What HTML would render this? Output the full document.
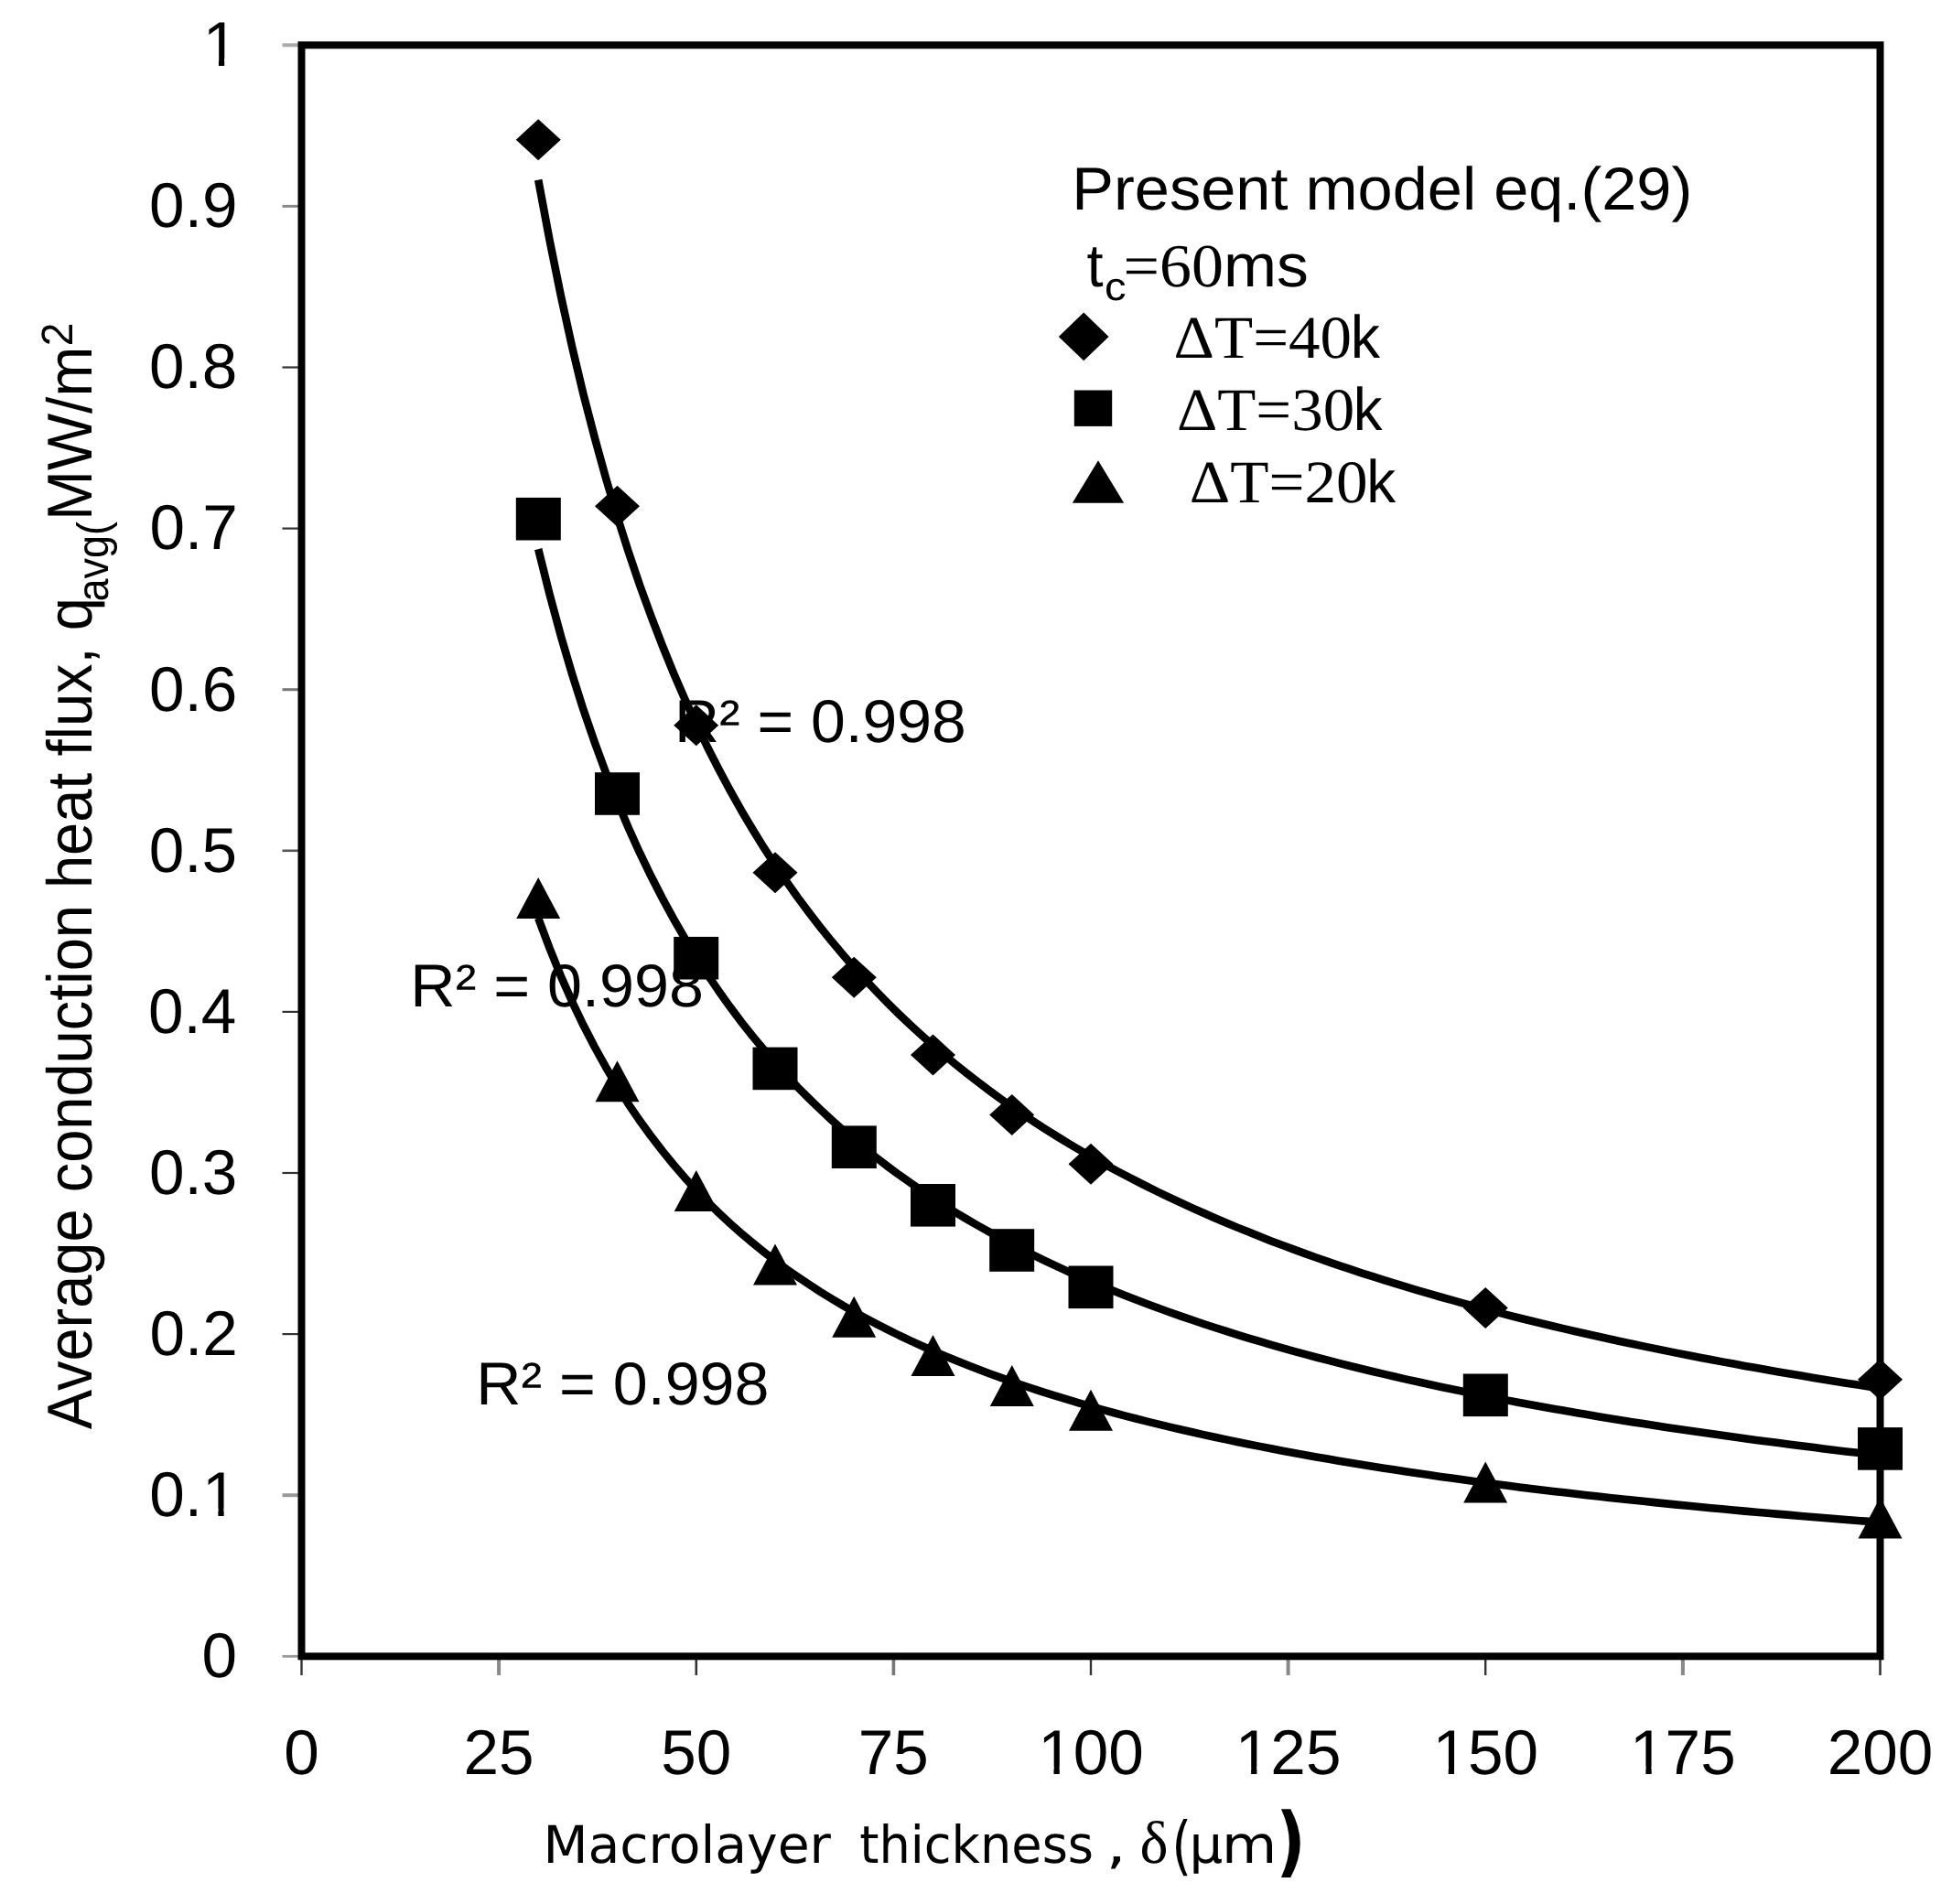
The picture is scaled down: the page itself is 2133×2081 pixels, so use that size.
<!DOCTYPE html>
<html lang="en"><head><meta charset="utf-8"><title>Average conduction heat flux vs macrolayer thickness</title>
<style>html,body{margin:0;padding:0;background:#fff;}body{width:2133px;height:2081px;overflow:hidden;}svg{display:block;}
text{fill:#000;text-rendering:geometricPrecision;}.a{font-family:"Liberation Sans",Arial,sans-serif;}.t{font-family:"Liberation Serif","Times New Roman",serif;}.d{font-family:"DejaVu Sans","Liberation Sans",sans-serif;}.b{font-weight:bold;}
</style></head><body>
<svg width="2133" height="2081" viewBox="0 0 2133 2081">
<rect width="2133" height="2081" fill="#fff"/>
<defs><filter id="soft" x="0" y="0" width="100%" height="100%" filterUnits="objectBoundingBox" color-interpolation-filters="sRGB"><feGaussianBlur stdDeviation="0.75"/></filter></defs>
<g filter="url(#soft)"><rect width="2133" height="2081" fill="#fff"/>
<line x1="308.5" y1="1810.3" x2="326" y2="1810.3" stroke="#999" stroke-width="2.8"/>
<line x1="308.5" y1="1634.2" x2="326" y2="1634.2" stroke="#999" stroke-width="4"/>
<line x1="308.5" y1="1458.1" x2="326" y2="1458.1" stroke="#333" stroke-width="2.2"/>
<line x1="308.5" y1="1282.0" x2="326" y2="1282.0" stroke="#333" stroke-width="2.2"/>
<line x1="308.5" y1="1105.9" x2="326" y2="1105.9" stroke="#333" stroke-width="2.2"/>
<line x1="308.5" y1="929.8" x2="326" y2="929.8" stroke="#555" stroke-width="2.6"/>
<line x1="308.5" y1="753.7" x2="326" y2="753.7" stroke="#777" stroke-width="3"/>
<line x1="308.5" y1="577.6" x2="326" y2="577.6" stroke="#333" stroke-width="2.2"/>
<line x1="308.5" y1="401.5" x2="326" y2="401.5" stroke="#333" stroke-width="2.2"/>
<line x1="308.5" y1="225.4" x2="326" y2="225.4" stroke="#888" stroke-width="3"/>
<line x1="308.5" y1="49.3" x2="326" y2="49.3" stroke="#aaa" stroke-width="4"/>
<line x1="329.5" y1="1814" x2="329.5" y2="1831" stroke="#333" stroke-width="2.4"/>
<line x1="545.1" y1="1814" x2="545.1" y2="1831" stroke="#888" stroke-width="4"/>
<line x1="760.8" y1="1814" x2="760.8" y2="1831" stroke="#333" stroke-width="2.6"/>
<line x1="976.4" y1="1814" x2="976.4" y2="1831" stroke="#777" stroke-width="3.6"/>
<line x1="1192.0" y1="1814" x2="1192.0" y2="1831" stroke="#333" stroke-width="2.4"/>
<line x1="1407.6" y1="1814" x2="1407.6" y2="1831" stroke="#888" stroke-width="4"/>
<line x1="1623.2" y1="1814" x2="1623.2" y2="1831" stroke="#333" stroke-width="2.4"/>
<line x1="1838.9" y1="1814" x2="1838.9" y2="1831" stroke="#888" stroke-width="4"/>
<line x1="2054.5" y1="1814" x2="2054.5" y2="1831" stroke="#333" stroke-width="2.6"/>
<rect x="329.5" y="49.3" width="1725.0" height="1761.0" fill="none" stroke="#000" stroke-width="8"/>
<polyline points="588.2,196.6 600.6,262.8 612.9,323.4 625.2,379.3 637.5,430.9 649.9,478.7 662.2,523.2 674.5,564.6 686.8,603.3 699.1,639.6 711.5,673.6 723.8,705.6 736.1,735.8 748.4,764.2 760.8,791.2 773.1,816.7 785.4,840.8 797.7,863.8 810.0,885.7 822.4,906.5 834.7,926.4 847.0,945.3 859.3,963.4 871.6,980.8 884.0,997.4 896.3,1013.3 908.6,1028.6 920.9,1043.2 933.2,1057.3 945.6,1070.9 957.9,1083.9 970.2,1096.5 982.5,1108.6 994.9,1120.3 1007.2,1131.6 1019.5,1142.6 1031.8,1153.1 1044.1,1163.3 1056.5,1173.2 1068.8,1182.7 1081.1,1192.0 1093.4,1201.0 1105.8,1209.7 1118.1,1218.1 1130.4,1226.3 1142.7,1234.3 1155.0,1242.0 1167.4,1249.6 1179.7,1256.9 1192.0,1264.0 1204.3,1270.9 1216.6,1277.7 1229.0,1284.2 1241.3,1290.6 1253.6,1296.9 1265.9,1303.0 1278.2,1308.9 1290.6,1314.7 1302.9,1320.3 1315.2,1325.8 1327.5,1331.2 1339.9,1336.5 1352.2,1341.6 1364.5,1346.6 1376.8,1351.6 1389.1,1356.4 1401.5,1361.0 1413.8,1365.6 1426.1,1370.1 1438.4,1374.5 1450.8,1378.9 1463.1,1383.1 1475.4,1387.2 1487.7,1391.3 1500.0,1395.2 1512.4,1399.1 1524.7,1402.9 1537.0,1406.7 1549.3,1410.3 1561.6,1413.9 1574.0,1417.5 1586.3,1420.9 1598.6,1424.3 1610.9,1427.7 1623.2,1431.0 1635.6,1434.2 1647.9,1437.4 1660.2,1440.5 1672.5,1443.5 1684.9,1446.5 1697.2,1449.5 1709.5,1452.4 1721.8,1455.2 1734.1,1458.0 1746.5,1460.8 1758.8,1463.5 1771.1,1466.2 1783.4,1468.8 1795.8,1471.4 1808.1,1473.9 1820.4,1476.4 1832.7,1478.9 1845.0,1481.3 1857.4,1483.7 1869.7,1486.0 1882.0,1488.4 1894.3,1490.6 1906.6,1492.9 1919.0,1495.1 1931.3,1497.3 1943.6,1499.4 1955.9,1501.5 1968.2,1503.6 1980.6,1505.7 1992.9,1507.7 2005.2,1509.7 2017.5,1511.7 2029.9,1513.6 2042.2,1515.6 2054.5,1517.5" fill="none" stroke="#000" stroke-width="8.6" stroke-linecap="butt" stroke-linejoin="round"/>
<polyline points="588.2,600.1 600.6,649.7 612.9,695.2 625.2,737.0 637.5,775.7 649.9,811.6 662.2,844.9 674.5,876.0 686.8,905.0 699.1,932.2 711.5,957.8 723.8,981.8 736.1,1004.4 748.4,1025.7 760.8,1045.9 773.1,1065.1 785.4,1083.2 797.7,1100.4 810.0,1116.8 822.4,1132.5 834.7,1147.3 847.0,1161.6 859.3,1175.2 871.6,1188.2 884.0,1200.6 896.3,1212.5 908.6,1224.0 920.9,1235.0 933.2,1245.6 945.6,1255.7 957.9,1265.5 970.2,1275.0 982.5,1284.1 994.9,1292.8 1007.2,1301.3 1019.5,1309.5 1031.8,1317.4 1044.1,1325.1 1056.5,1332.5 1068.8,1339.6 1081.1,1346.6 1093.4,1353.3 1105.8,1359.8 1118.1,1366.2 1130.4,1372.3 1142.7,1378.3 1155.0,1384.1 1167.4,1389.8 1179.7,1395.2 1192.0,1400.6 1204.3,1405.8 1216.6,1410.8 1229.0,1415.8 1241.3,1420.6 1253.6,1425.2 1265.9,1429.8 1278.2,1434.2 1290.6,1438.6 1302.9,1442.8 1315.2,1447.0 1327.5,1451.0 1339.9,1454.9 1352.2,1458.8 1364.5,1462.6 1376.8,1466.2 1389.1,1469.8 1401.5,1473.4 1413.8,1476.8 1426.1,1480.2 1438.4,1483.5 1450.8,1486.7 1463.1,1489.9 1475.4,1493.0 1487.7,1496.0 1500.0,1499.0 1512.4,1501.9 1524.7,1504.8 1537.0,1507.6 1549.3,1510.3 1561.6,1513.0 1574.0,1515.7 1586.3,1518.3 1598.6,1520.8 1610.9,1523.3 1623.2,1525.8 1635.6,1528.2 1647.9,1530.6 1660.2,1532.9 1672.5,1535.2 1684.9,1537.5 1697.2,1539.7 1709.5,1541.8 1721.8,1544.0 1734.1,1546.1 1746.5,1548.2 1758.8,1550.2 1771.1,1552.2 1783.4,1554.2 1795.8,1556.1 1808.1,1558.0 1820.4,1559.9 1832.7,1561.7 1845.0,1563.5 1857.4,1565.3 1869.7,1567.1 1882.0,1568.8 1894.3,1570.5 1906.6,1572.2 1919.0,1573.9 1931.3,1575.5 1943.6,1577.1 1955.9,1578.7 1968.2,1580.3 1980.6,1581.8 1992.9,1583.4 2005.2,1584.9 2017.5,1586.4 2029.9,1587.8 2042.2,1589.3 2054.5,1590.7" fill="none" stroke="#000" stroke-width="8.6" stroke-linecap="butt" stroke-linejoin="round"/>
<polyline points="588.2,1003.5 600.6,1036.5 612.9,1066.9 625.2,1094.8 637.5,1120.6 649.9,1144.5 662.2,1166.7 674.5,1187.4 686.8,1206.8 699.1,1224.9 711.5,1241.9 723.8,1257.9 736.1,1273.0 748.4,1287.3 760.8,1300.7 773.1,1313.5 785.4,1325.6 797.7,1337.1 810.0,1348.0 822.4,1358.4 834.7,1368.3 847.0,1377.8 859.3,1386.9 871.6,1395.5 884.0,1403.8 896.3,1411.8 908.6,1419.4 920.9,1426.8 933.2,1433.8 945.6,1440.6 957.9,1447.1 970.2,1453.4 982.5,1459.5 994.9,1465.3 1007.2,1471.0 1019.5,1476.4 1031.8,1481.7 1044.1,1486.8 1056.5,1491.7 1068.8,1496.5 1081.1,1501.2 1093.4,1505.6 1105.8,1510.0 1118.1,1514.2 1130.4,1518.3 1142.7,1522.3 1155.0,1526.2 1167.4,1529.9 1179.7,1533.6 1192.0,1537.2 1204.3,1540.6 1216.6,1544.0 1229.0,1547.3 1241.3,1550.5 1253.6,1553.6 1265.9,1556.6 1278.2,1559.6 1290.6,1562.5 1302.9,1565.3 1315.2,1568.1 1327.5,1570.8 1339.9,1573.4 1352.2,1576.0 1364.5,1578.5 1376.8,1580.9 1389.1,1583.3 1401.5,1585.7 1413.8,1588.0 1426.1,1590.2 1438.4,1592.4 1450.8,1594.6 1463.1,1596.7 1475.4,1598.8 1487.7,1600.8 1500.0,1602.8 1512.4,1604.7 1524.7,1606.6 1537.0,1608.5 1549.3,1610.3 1561.6,1612.1 1574.0,1613.9 1586.3,1615.6 1598.6,1617.3 1610.9,1619.0 1623.2,1620.6 1635.6,1622.2 1647.9,1623.8 1660.2,1625.4 1672.5,1626.9 1684.9,1628.4 1697.2,1629.9 1709.5,1631.3 1721.8,1632.8 1734.1,1634.2 1746.5,1635.5 1758.8,1636.9 1771.1,1638.2 1783.4,1639.5 1795.8,1640.8 1808.1,1642.1 1820.4,1643.4 1832.7,1644.6 1845.0,1645.8 1857.4,1647.0 1869.7,1648.2 1882.0,1649.3 1894.3,1650.5 1906.6,1651.6 1919.0,1652.7 1931.3,1653.8 1943.6,1654.9 1955.9,1655.9 1968.2,1657.0 1980.6,1658.0 1992.9,1659.0 2005.2,1660.0 2017.5,1661.0 2029.9,1662.0 2042.2,1662.9 2054.5,1663.9" fill="none" stroke="#000" stroke-width="8.6" stroke-linecap="butt" stroke-linejoin="round"/>
<g fill="#000">
<path d="M563.8 152.8L588.2 130.3L612.8 152.8L588.2 175.3Z"/>
<rect x="563.8" y="543.9" width="49.0" height="46.6"/>
<path d="M564.2 1004.1L588.2 959.1L612.2 1004.1Z"/>
<path d="M650.0 553.3L674.5 530.8L699.0 553.3L674.5 575.8Z"/>
<rect x="650.0" y="844.2" width="49.0" height="46.6"/>
<path d="M650.5 1204.3L674.5 1159.3L698.5 1204.3Z"/>
<path d="M736.2 792.8L760.8 770.3L785.2 792.8L760.8 815.3Z"/>
<rect x="736.2" y="1023.9" width="49.0" height="46.6"/>
<path d="M736.8 1324.0L760.8 1279.0L784.8 1324.0Z"/>
<path d="M822.5 953.7L847.0 931.2L871.5 953.7L847.0 976.2Z"/>
<rect x="822.5" y="1144.6" width="49.0" height="46.6"/>
<path d="M823.0 1404.5L847.0 1359.5L871.0 1404.5Z"/>
<path d="M908.8 1068.2L933.2 1045.7L957.8 1068.2L933.2 1090.7Z"/>
<rect x="908.8" y="1230.4" width="49.0" height="46.6"/>
<path d="M909.2 1461.8L933.2 1416.8L957.2 1461.8Z"/>
<path d="M995.0 1152.9L1019.5 1130.4L1044.0 1152.9L1019.5 1175.4Z"/>
<rect x="995.0" y="1294.0" width="49.0" height="46.6"/>
<path d="M995.5 1504.1L1019.5 1459.1L1043.5 1504.1Z"/>
<path d="M1081.2 1218.6L1105.8 1196.1L1130.2 1218.6L1105.8 1241.1Z"/>
<rect x="1081.2" y="1343.2" width="49.0" height="46.6"/>
<path d="M1081.8 1537.0L1105.8 1492.0L1129.8 1537.0Z"/>
<path d="M1167.5 1272.3L1192.0 1249.8L1216.5 1272.3L1192.0 1294.8Z"/>
<rect x="1167.5" y="1383.5" width="49.0" height="46.6"/>
<path d="M1168.0 1563.8L1192.0 1518.8L1216.0 1563.8Z"/>
<path d="M1598.8 1429.6L1623.2 1407.1L1647.8 1429.6L1623.2 1452.1Z"/>
<rect x="1598.8" y="1501.5" width="49.0" height="46.6"/>
<path d="M1599.2 1642.4L1623.2 1597.4L1647.2 1642.4Z"/>
<path d="M2030.0 1507.8L2054.5 1485.3L2079.0 1507.8L2054.5 1530.3Z"/>
<rect x="2030.0" y="1560.1" width="49.0" height="46.6"/>
<path d="M2030.5 1681.5L2054.5 1636.5L2078.5 1681.5Z"/>
<path d="M1156.8 367.9L1184.2 341.5L1211.6 367.9L1184.2 394.3Z"/>
<rect x="1173.8" y="426.5" width="41.4" height="39.4"/>
<path d="M1171.8 549.7L1200.0 503.3L1228.2 549.7Z"/>
</g>
<text class="a" font-size="66" transform="translate(220.44 1833.10) scale(1.0500 1.0450)" xml:space="preserve">0</text>
<text class="a" font-size="66" transform="translate(163.26 1657.00) scale(1.0500 1.0450)" xml:space="preserve">0.1</text><rect x="224.53" y="1648.72" width="13.83" height="9.66" fill="#fff"/><rect x="244.66" y="1648.72" width="13.13" height="9.66" fill="#fff"/>
<text class="a" font-size="66" transform="translate(163.44 1480.90) scale(1.0500 1.0450)" xml:space="preserve">0.2</text>
<text class="a" font-size="66" transform="translate(162.92 1304.80) scale(1.0500 1.0450)" xml:space="preserve">0.3</text>
<text class="a" font-size="66" transform="translate(161.88 1128.70) scale(1.0500 1.0450)" xml:space="preserve">0.4</text>
<text class="a" font-size="66" transform="translate(162.75 952.60) scale(1.0500 1.0450)" xml:space="preserve">0.5</text>
<text class="a" font-size="66" transform="translate(162.92 776.50) scale(1.0500 1.0450)" xml:space="preserve">0.6</text>
<text class="a" font-size="66" transform="translate(163.44 600.40) scale(1.0500 1.0450)" xml:space="preserve">0.7</text>
<text class="a" font-size="66" transform="translate(162.92 424.30) scale(1.0500 1.0450)" xml:space="preserve">0.8</text>
<text class="a" font-size="66" transform="translate(163.09 248.20) scale(1.0500 1.0450)" xml:space="preserve">0.9</text>
<text class="a" font-size="66" transform="translate(221.63 72.10) scale(1.0500 1.0450)" xml:space="preserve">1</text><rect x="225.10" y="63.82" width="13.83" height="9.66" fill="#fff"/><rect x="245.23" y="63.82" width="13.13" height="9.66" fill="#fff"/>
<text class="a" font-size="66" transform="translate(310.23 1939.20) scale(1.0500 1.0450)" xml:space="preserve">0</text>
<text class="a" font-size="66" transform="translate(506.58 1939.20) scale(1.0500 1.0450)" xml:space="preserve">25</text>
<text class="a" font-size="66" transform="translate(722.21 1939.20) scale(1.0500 1.0450)" xml:space="preserve">50</text>
<text class="a" font-size="66" transform="translate(937.83 1939.20) scale(1.0500 1.0450)" xml:space="preserve">75</text>
<text class="a" font-size="66" transform="translate(1134.19 1939.20) scale(1.0500 1.0450)" xml:space="preserve">100</text><rect x="1137.65" y="1930.92" width="13.83" height="9.66" fill="#fff"/><rect x="1157.78" y="1930.92" width="13.13" height="9.66" fill="#fff"/>
<text class="a" font-size="66" transform="translate(1349.81 1939.20) scale(1.0500 1.0450)" xml:space="preserve">125</text><rect x="1353.28" y="1930.92" width="13.83" height="9.66" fill="#fff"/><rect x="1373.41" y="1930.92" width="13.13" height="9.66" fill="#fff"/>
<text class="a" font-size="66" transform="translate(1565.44 1939.20) scale(1.0500 1.0450)" xml:space="preserve">150</text><rect x="1568.90" y="1930.92" width="13.83" height="9.66" fill="#fff"/><rect x="1589.03" y="1930.92" width="13.13" height="9.66" fill="#fff"/>
<text class="a" font-size="66" transform="translate(1781.06 1939.20) scale(1.0500 1.0450)" xml:space="preserve">175</text><rect x="1784.53" y="1930.92" width="13.83" height="9.66" fill="#fff"/><rect x="1804.66" y="1930.92" width="13.13" height="9.66" fill="#fff"/>
<text class="a" font-size="66" transform="translate(1996.69 1939.20) scale(1.0500 1.0450)" xml:space="preserve">200</text>
<text class="a" font-size="66" transform="translate(100.00 1562.16) rotate(-90) scale(0.9843 1.0500)" xml:space="preserve">Average conduction heat flux, q</text>
<text class="a" font-size="46" transform="translate(118.00 657.51) rotate(-90) scale(0.9763 1.0500)" xml:space="preserve">avg(</text>
<text class="a" font-size="66" transform="translate(100.00 568.93) rotate(-90) scale(0.9981 1.0500)" xml:space="preserve">MW/m</text>
<text class="a" font-size="46" transform="translate(79.00 378.31) rotate(-90) scale(1.0033 1.0500)" xml:space="preserve">2</text>
<text class="d" font-size="56.6" transform="translate(593.46 2035.70) scale(1.0040 1.0000)" xml:space="preserve">Macrolayer</text>
<text class="d" font-size="56.6" transform="translate(939.21 2035.70) scale(0.9572 1.0000)" xml:space="preserve">thickness</text>
<text class="d" font-size="56.6" transform="translate(1208.56 2035.70) scale(1.2398 1.0000)" xml:space="preserve">,</text>
<text class="t" font-size="66" transform="translate(1245.53 2035.70) scale(0.9973 1.0000)" xml:space="preserve">δ</text>
<text class="d" font-size="70" transform="translate(1280.24 2041.00) scale(0.8000 1.0000)" xml:space="preserve">(</text>
<text class="d" font-size="56.6" transform="translate(1299.59 2035.70) scale(1.0216 1.0000)" xml:space="preserve">μ</text>
<text class="d" font-size="56.6" transform="translate(1334.93 2035.70) scale(1.0932 1.0000)" xml:space="preserve">m</text>
<text class="d b" font-size="84" transform="translate(1394.29 2041.00) scale(0.8498 1.0000)" xml:space="preserve">)</text>
<text class="a" font-size="66" transform="translate(736.90 811.00) scale(1.0289 1.0000)" xml:space="preserve">R² = 0.998</text>
<text class="a" font-size="66" transform="translate(448.37 1100.00) scale(1.0338 1.0000)" xml:space="preserve">R² = 0.998</text>
<text class="a" font-size="66" transform="translate(520.18 1535.20) scale(1.0329 1.0000)" xml:space="preserve">R² = 0.998</text>
<text class="a" font-size="66" transform="translate(1171.35 229.00) scale(1.0381 1.0000)" xml:space="preserve">Present model eq.(29)</text>
<text class="a" font-size="66" transform="translate(1187.62 312.70) scale(0.9863 1.0000)" xml:space="preserve">t</text>
<text class="a" font-size="43" transform="translate(1206.89 327.50) scale(1.0979 1.0000)" xml:space="preserve">c</text>
<text class="t" font-size="67" transform="translate(1227.50 312.70) scale(1.0435 1.0000)" xml:space="preserve">=60</text>
<text class="a" font-size="66" transform="translate(1337.00 312.70) scale(1.0557 1.0000)" xml:space="preserve">ms</text>
<text class="t" font-size="66" transform="translate(1282.61 391.00) scale(1.0458 1.0000)" xml:space="preserve">ΔT=40</text>
<text class="a" font-size="66" transform="translate(1475.65 391.00) scale(0.9774 1.0000)" xml:space="preserve">k</text>
<text class="t" font-size="66" transform="translate(1285.92 470.20) scale(1.0442 1.0000)" xml:space="preserve">ΔT=30</text>
<text class="a" font-size="66" transform="translate(1478.71 470.20) scale(0.9634 1.0000)" xml:space="preserve">k</text>
<text class="t" font-size="66" transform="translate(1299.81 549.10) scale(1.0475 1.0000)" xml:space="preserve">ΔT=20</text>
<text class="a" font-size="66" transform="translate(1493.19 549.10) scale(0.9669 1.0000)" xml:space="preserve">k</text>
</g></svg></body></html>
